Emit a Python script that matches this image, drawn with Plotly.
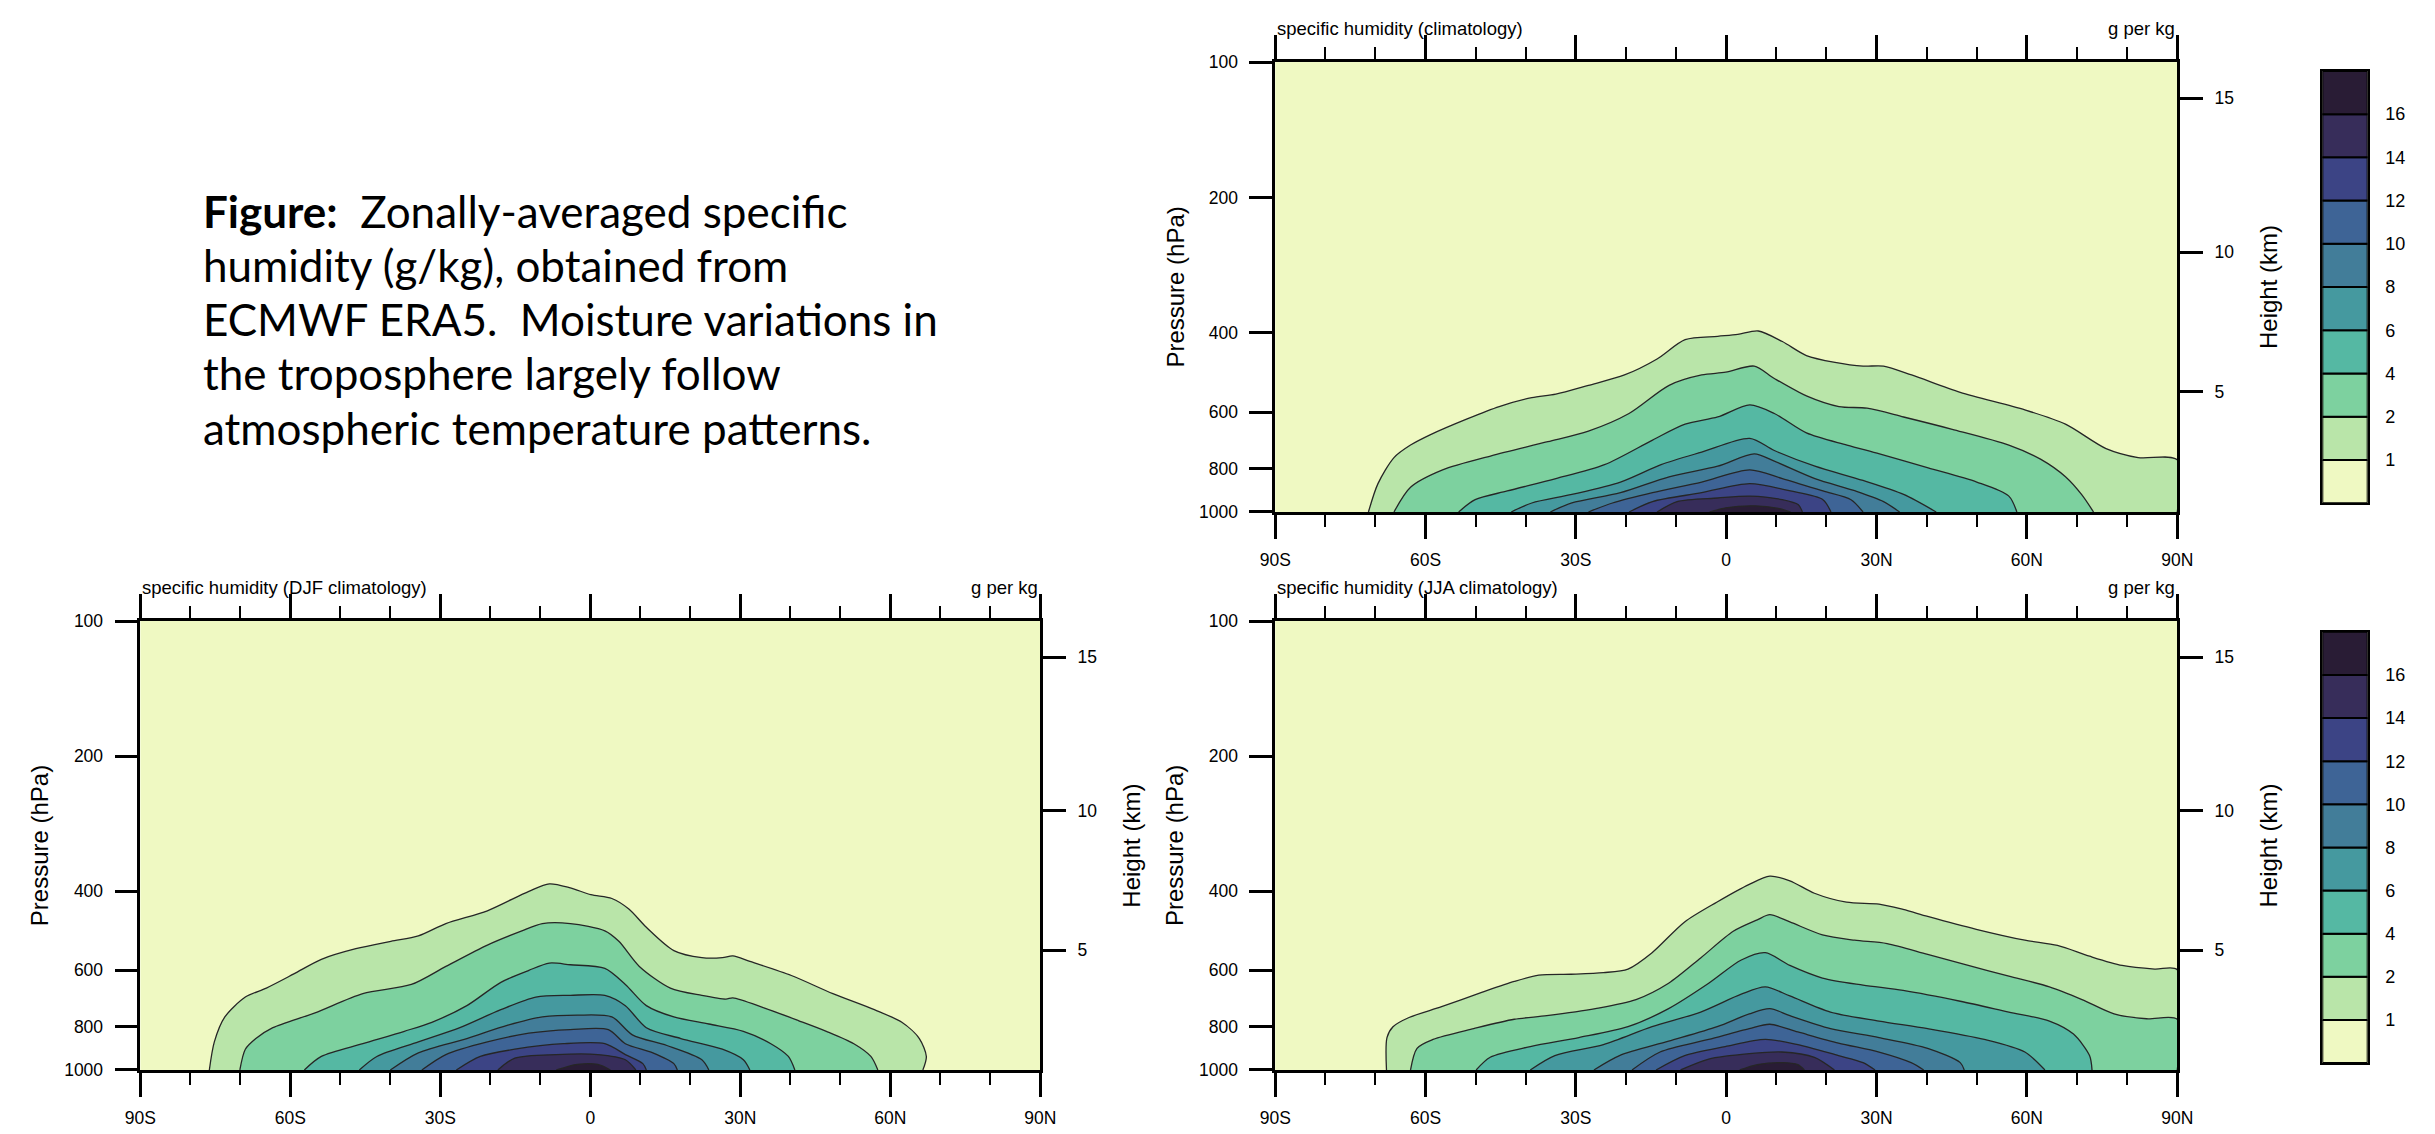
import plotly.graph_objects as go

W, H = 2435, 1134

# ---------------- data ----------------
LEVELS = [1, 2, 4, 6, 8, 10, 12, 14, 16]
LEVEL_LABELS = ["1", "2", "4", "6", "8", "10", "12", "14", "16"]
FILL_COLORS = ["#eff9c2", "#b9e5a9", "#7dd19f", "#55b8a3", "#45999f",
               "#427d99", "#3e6496", "#3c4485", "#372d5a", "#291c35"]

LAT_TICKS = [-90, -60, -30, 0, 30, 60, 90]
LAT_LABELS = ["90S", "60S", "30S", "0", "30N", "60N", "90N"]
P_TICKS = [100, 200, 400, 600, 800, 1000]
HEIGHT_LABELS = ["5", "10", "15"]
HEIGHT_P = [540.5, 264.4, 120.4]   # standard-atmosphere pressure (hPa) at 5, 10, 15 km

# Contour boundaries (latitude, pressure hPa) of regions q >= level
# Annual climatology
ANN_LAT = [
    [-71.4, -69.5, -66.3, -63, -59, -51.7, -45.3, -38.8, -34, -27.5, -20.3, -13.8, -8.2, -1.7, 2.3, 6.4, 11.2, 16.0, 21.7, 27.3, 31.4, 37.0, 46.7, 59.6, 67.7, 75.8, 82.2, 90],
    [-66.3, -63, -56.6, -46.9, -35.6, -27.5, -19.4, -11.4, -4.9, -0.1, 5.6, 9.6, 16, 22.5, 28.1, 35.4, 45.1, 56.4, 62.8, 67.7, 70.9, 73.3],
    [-53.4, -50.1, -43.7, -34, -24.3, -14.7, -8.2, -1.7, 4.7, 9.6, 16, 24.1, 30.6, 40.3, 50, 56.4, 58],
    [-42.9, -38.8, -30.8, -21.1, -13.0, -4.9, 4.7, 9.6, 17.7, 27.3, 35.4, 41.9],
    [-35.1, -30.8, -21.1, -11.4, -1.7, 5.6, 9.6, 17.7, 25.8, 31.4, 34.6],
    [-27.5, -22.7, -14.7, -4.9, 4.7, 11.2, 19.3, 24.9, 27.3],
    [-19.4, -14.7, -4.9, 4.7, 12.8, 19.3, 20.9],
    [-13.8, -9.8, -1.7, 4.7, 11.2, 14.4, 15.2],
    [-3.3, -0.1, 5.6, 10.4, 12.8],
]
ANN_P = [
    [1000, 865, 757, 710, 673, 621, 583, 557, 547, 523, 496, 457, 414, 407, 403, 396, 418, 449, 465, 474, 474, 496, 542, 593, 638, 723, 757, 766],
    [1000, 881, 806, 750, 698, 661, 604, 523, 496, 489, 474, 505, 552, 583, 588, 615, 655, 710, 764, 835, 914, 1000],
    [1000, 939, 898, 843, 785, 692, 638, 615, 578, 604, 667, 710, 743, 798, 858, 922, 1000],
    [1000, 955, 914, 858, 785, 736, 686, 730, 791, 851, 914, 1000],
    [1000, 955, 906, 835, 791, 743, 771, 843, 898, 948, 1000],
    [1000, 955, 906, 858, 806, 843, 898, 939, 1000],
    [1000, 948, 906, 865, 898, 939, 1000],
    [1000, 948, 931, 922, 939, 964, 1000],
    [1000, 979, 969, 982, 1000],
]

# DJF climatology
DJF_LAT = [
    [-76.2, -75.2, -73.1, -69.0, -64.8, -59.3, -53.8, -46.9, -39.9, -34.4, -28.9, -20.6, -12.3, -8.2, -4.0, 0.1, 4.3, 7.7, 11.2, 16.7, 22.3, 26.4, 28.5, 31.9, 40.2, 48.5, 56.8, 62.3, 65.8, 67.2, 66.5],
    [-70.1, -69.0, -66.9, -63.5, -55.2, -45.5, -35.8, -28.9, -20.6, -13.7, -9.6, -4.0, 2.9, 5.7, 9.8, 16.0, 22.3, 27.1, 28.5, 34.7, 41.6, 47.2, 52.7, 56.1, 57.5],
    [-57.2, -53.8, -45.5, -37.2, -31.7, -24.7, -17.9, -12.3, -8.2, -4.0, 2.9, 7.0, 11.2, 16.7, 23.7, 30.6, 36.1, 39.6, 40.9],
    [-46.2, -42.7, -34.4, -26.1, -17.9, -10.9, -4.0, 2.9, 7.0, 11.2, 18.1, 26.4, 30.6, 31.9],
    [-40.0, -34.4, -24.7, -16.5, -9.6, -2.6, 4.3, 8.4, 15.3, 22.3, 23.7],
    [-33.7, -28.9, -20.6, -12.3, -4.0, 3.6, 7.0, 12.5, 16.7, 17.4],
    [-26.8, -22.0, -15.1, -5.4, 2.9, 7.0, 10.5, 11.2],
    [-18.5, -15.1, -6.8, 1.5, 7.0, 9.1],
    [-6.8, -2.6, 1.5, 4.0],
]
DJF_P = [
    [1000, 866, 762, 688, 657, 611, 567, 537, 517, 503, 472, 442, 400, 385, 393, 407, 415, 438, 481, 542, 562, 562, 557, 573, 616, 676, 734, 783, 851, 933, 1000],
    [1000, 899, 851, 805, 747, 676, 645, 588, 527, 490, 472, 472, 490, 517, 588, 657, 682, 695, 691, 727, 776, 820, 874, 933, 1000],
    [1000, 933, 874, 820, 783, 719, 638, 600, 578, 583, 594, 645, 719, 762, 790, 820, 874, 933, 1000],
    [1000, 933, 866, 805, 734, 688, 682, 682, 719, 805, 851, 899, 949, 1000],
    [1000, 916, 851, 795, 762, 755, 762, 835, 882, 949, 1000],
    [1000, 924, 866, 828, 813, 813, 874, 916, 968, 1000],
    [1000, 933, 899, 874, 874, 924, 968, 1000],
    [1000, 941, 924, 924, 949, 1000],
    [1000, 972, 972, 1000],
]

# JJA climatology
JJA_LAT = [
    [-67.8, -67.7, -66.5, -63.3, -56.8, -48.8, -42.3, -37.4, -31.0, -24.5, -19.6, -14.8, -8.3, -1.9, 4.6, 8.7, 12.7, 17.6, 24.0, 30.5, 35.3, 40.2, 49.9, 59.6, 66.1, 72.5, 79.0, 85.5, 90],
    [-63.0, -61.7, -58.5, -50.4, -42.3, -35.8, -26.1, -18.0, -11.5, -5.1, 1.4, 6.2, 8.7, 12.7, 19.2, 25.6, 32.1, 40.2, 48.3, 56.4, 64.5, 71.0, 77.4, 83.9, 90],
    [-49.9, -47.1, -39.1, -29.4, -19.6, -11.5, -3.5, 3.0, 7.8, 12.7, 19.2, 27.3, 35.3, 46.7, 56.4, 64.5, 69.3, 72.5, 73.0],
    [-39.1, -34.2, -24.5, -14.8, -5.1, 3.0, 7.8, 12.7, 20.8, 30.5, 40.2, 51.5, 59.6, 63.6],
    [-26.4, -21.3, -11.5, -1.8, 4.6, 8.7, 12.7, 20.8, 30.5, 40.2, 46.7, 47.5],
    [-18.8, -13.2, -3.5, 4.6, 8.7, 14.3, 22.4, 30.5, 36.9, 39.4],
    [-14.0, -8.3, -0.2, 7.8, 14.3, 22.4, 27.3, 29.7],
    [-9.1, -3.5, 4.6, 11.1, 17.6, 21.6],
    [2.7, 6.2, 11.1, 14.3, 15.6],
]
JJA_P = [
    [1000, 847, 801, 764, 723, 672, 635, 615, 612, 607, 596, 548, 468, 423, 386, 370, 379, 404, 423, 427, 439, 455, 486, 514, 528, 558, 585, 596, 598],
    [1000, 895, 855, 809, 771, 757, 730, 697, 641, 563, 491, 463, 451, 468, 500, 514, 523, 553, 585, 618, 653, 697, 750, 769, 771],
    [1000, 937, 887, 847, 801, 730, 641, 569, 548, 585, 624, 647, 665, 703, 743, 778, 832, 929, 1000],
    [1000, 929, 878, 801, 743, 678, 653, 684, 743, 778, 809, 855, 912, 1000],
    [1000, 929, 863, 801, 750, 730, 757, 809, 847, 895, 963, 1000],
    [1000, 912, 855, 809, 791, 823, 871, 912, 963, 1000],
    [1000, 929, 887, 855, 878, 929, 963, 1000],
    [1000, 946, 920, 912, 937, 1000],
    [1000, 973, 963, 973, 1000],
]

PANEL_TITLES = ["specific humidity (climatology)",
                "specific humidity (DJF climatology)",
                "specific humidity (JJA climatology)"]
UNITS = "g per kg"

TEXT_LINES = ["<b>Figure:</b>  Zonally-averaged specific",
              "humidity (g/kg), obtained from",
              "ECMWF ERA5.  Moisture variations in",
              "the troposphere largely follow",
              "atmospheric temperature patterns."]

# ---------------- layout geometry (pixels) ----------------
PANELS = [
    dict(l=1276, r=2190, t=53, b=511, cbar=(2337, 2383, 62, 502), lat=ANN_LAT, p=ANN_P),
    dict(l=126, r=1038, t=622, b=1079, cbar=None, lat=DJF_LAT, p=DJF_P),
    dict(l=1276, r=2190, t=622, b=1079, cbar=(2337, 2383, 633, 1072), lat=JJA_LAT, p=JJA_P),
]

FONT = "Liberation Sans, Arial, Helvetica, sans-serif"
TICK_FONT = dict(family=FONT, size=17.5, color="black")


def px(x):
    return x / W


def py(y):
    return 1 - y / H


fig = go.Figure()
layout = dict(width=W, height=H, margin=dict(l=0, r=0, t=0, b=0, pad=0),
              paper_bgcolor="white", plot_bgcolor=FILL_COLORS[0],
              showlegend=False, annotations=[])

ax_n = 0
ay_n = 0


def axname(prefix, n):
    return prefix + ("" if n == 1 else str(n))


for i, pan in enumerate(PANELS):
    ax_n += 1
    xa = axname("x", ax_n)
    ay_n += 1
    ya = axname("y", ay_n)
    ay_n += 1
    yh = axname("y", ay_n)

    # filled contour regions, lowest level first
    for k, (la, pp) in enumerate(zip(pan["lat"], pan["p"])):
        xs = list(la)
        ys = list(pp)
        if ys[-1] < 1000:
            xs.append(90)
            ys.append(1000)
        fig.add_trace(go.Scatter(
            x=xs, y=ys, mode="lines", fill="toself",
            fillcolor=FILL_COLORS[k + 1],
            line=dict(color="#262626", width=1.3, shape="spline", smoothing=0.8),
            xaxis=xa, yaxis=ya, hoverinfo="skip", showlegend=False))

    # invisible anchor trace so the height axis is drawn
    fig.add_trace(go.Scatter(
        x=[0], y=[HEIGHT_P[0]], mode="markers", marker=dict(opacity=0),
        xaxis=xa, yaxis=yh, hoverinfo="skip", showlegend=False))

    xdom = [px(pan["l"]), px(pan["r"])]
    ydom = [py(pan["b"]), py(pan["t"])]
    layout[axname("xaxis", ax_n)] = dict(
        domain=xdom, anchor=ya, range=[-90, 90],
        tickmode="array", tickvals=LAT_TICKS, ticktext=LAT_LABELS,
        ticks="outside", ticklen=24, tickwidth=2.5, tickcolor="black",
        showline=True, linewidth=3, linecolor="black", mirror="ticks",
        showgrid=False, zeroline=False, tickfont=TICK_FONT, ticklabelstandoff=6,
        minor=dict(ticks="outside", dtick=10, tick0=-90, ticklen=12, tickwidth=2,
                   tickcolor="black", showgrid=False),
        layer="above traces")
    layout[axname("yaxis", ay_n - 1)] = dict(
        domain=ydom, anchor=xa, type="log", range=[3, 2],
        tickmode="array", tickvals=P_TICKS, ticktext=[str(v) for v in P_TICKS],
        ticks="outside", ticklen=23, tickwidth=2.5, tickcolor="black",
        showline=True, linewidth=2.5, linecolor="black",
        showgrid=False, zeroline=False, tickfont=TICK_FONT, ticklabelstandoff=8,
        layer="above traces")
    layout[axname("yaxis", ay_n)] = dict(
        overlaying=ya, anchor=xa, side="right", type="log", range=[3, 2],
        tickmode="array", tickvals=HEIGHT_P, ticktext=HEIGHT_LABELS,
        ticks="outside", ticklen=23, tickwidth=2.5, tickcolor="black",
        showline=True, linewidth=2.5, linecolor="black",
        showgrid=False, zeroline=False, tickfont=TICK_FONT, ticklabelstandoff=8,
        layer="above traces")

    # titles
    ty = pan["t"] - 34
    layout["annotations"].append(dict(
        text=PANEL_TITLES[i], xref="paper", yref="paper", x=px(pan["l"]), y=py(ty),
        xanchor="left", yanchor="middle", showarrow=False,
        font=dict(family=FONT, size=18.5, color="black")))
    layout["annotations"].append(dict(
        text=UNITS, xref="paper", yref="paper", x=px(pan["r"]), y=py(ty),
        xanchor="right", yanchor="middle", showarrow=False,
        font=dict(family=FONT, size=18.5, color="black")))
    mid = (pan["t"] + pan["b"]) / 2
    layout["annotations"].append(dict(
        text="Pressure (hPa)", xref="paper", yref="paper", x=px(pan["l"] - 102), y=py(mid),
        xanchor="center", yanchor="middle", textangle=-90, showarrow=False,
        font=dict(family=FONT, size=24, color="black")))
    layout["annotations"].append(dict(
        text="Height (km)", xref="paper", yref="paper", x=px(pan["r"] + 92), y=py(mid),
        xanchor="center", yanchor="middle", textangle=-90, showarrow=False,
        font=dict(family=FONT, size=24, color="black")))

    # colour key drawn as a stack of equal-height boxes
    if pan["cbar"] is not None:
        cl, cr, ct, cb = pan["cbar"]
        ax_n += 1
        cxa = axname("x", ax_n)
        ay_n += 1
        cya = axname("y", ay_n)
        nb = len(FILL_COLORS)
        fig.add_trace(go.Bar(
            x=[0] * nb, y=[1] * nb, base=list(range(nb)), width=1,
            marker=dict(color=FILL_COLORS, line=dict(color="black", width=2)),
            xaxis=cxa, yaxis=cya, hoverinfo="skip", showlegend=False))
        layout[axname("xaxis", ax_n)] = dict(
            domain=[px(cl), px(cr)], anchor=cya, range=[-0.5, 0.5],
            showticklabels=False, ticks="", showgrid=False, zeroline=False,
            showline=True, linewidth=2, linecolor="black", mirror=True, fixedrange=True)
        layout[axname("yaxis", ay_n)] = dict(
            domain=[py(cb), py(ct)], anchor=cxa, range=[0, nb], side="right",
            tickmode="array", tickvals=list(range(1, nb)), ticktext=LEVEL_LABELS,
            ticks="outside", ticklen=12, tickcolor="rgba(0,0,0,0)",
            showgrid=False, zeroline=False, showline=True, linewidth=2,
            linecolor="black", mirror=True,
            tickfont=dict(family=FONT, size=18, color="black"))

# descriptive text block
for j, line in enumerate(TEXT_LINES):
    layout["annotations"].append(dict(
        text=line, xref="paper", yref="paper", x=px(187), y=py(205 + 55 * j),
        xanchor="left", yanchor="middle", showarrow=False, align="left",
        height=50, valign="middle",
        font=dict(family="Lato, Carlito, sans-serif", size=44, color="black")))

fig.update_layout(**layout)
fig.write_html("out.html")
